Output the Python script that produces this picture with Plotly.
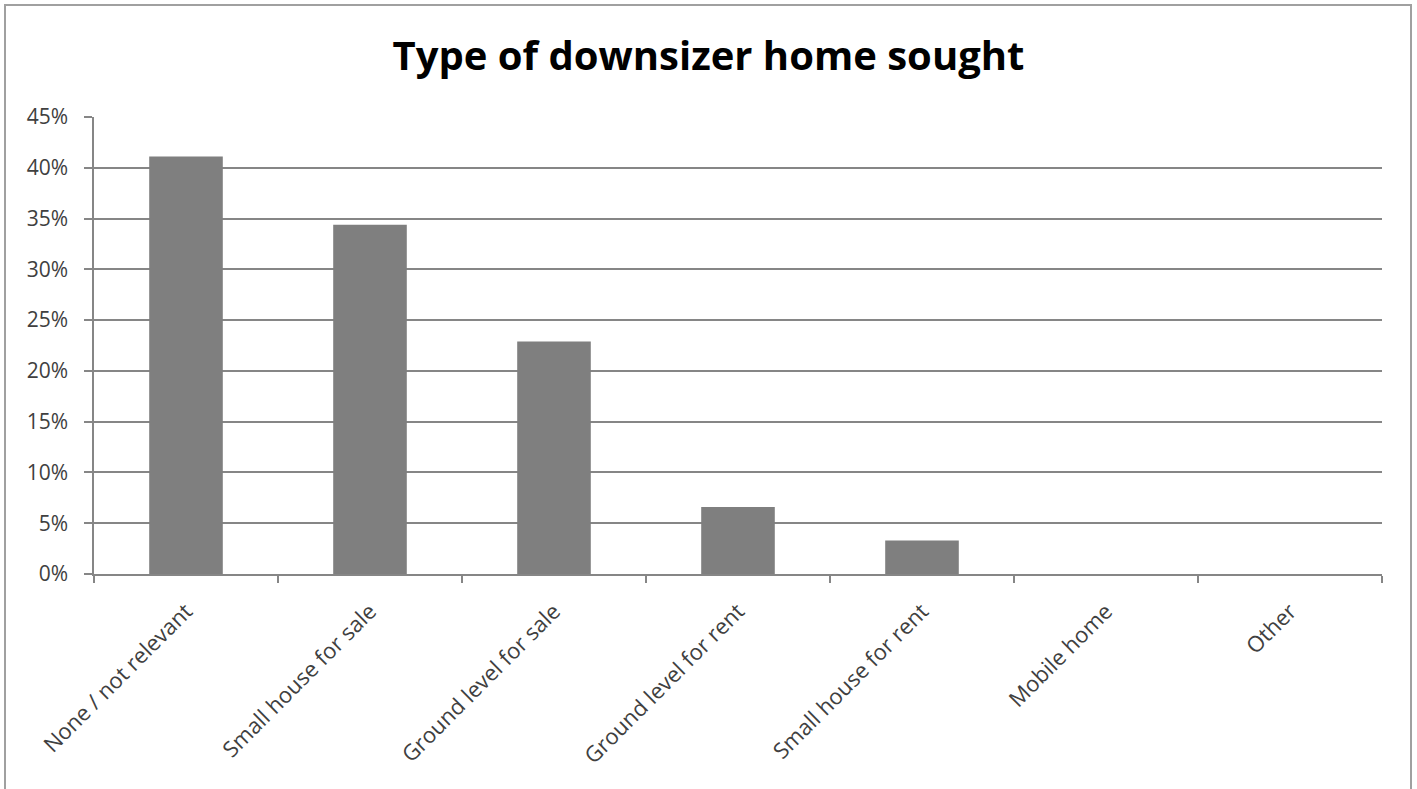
import plotly.graph_objects as go

categories = ["None / not relevant", "Small house for sale", "Ground level for sale",
              "Ground level for rent", "Small house for rent", "Mobile home", "Other"]
values = [0.411, 0.344, 0.229, 0.066, 0.033, 0.0, 0.0]
y_ticks = [0, 0.05, 0.10, 0.15, 0.20, 0.25, 0.30, 0.35, 0.40, 0.45]
y_tick_labels = ["0%", "5%", "10%", "15%", "20%", "25%", "30%", "35%", "40%", "45%"]
title_text = "Type of downsizer home sought"

W, H = 1417, 789
L, R, T, B = 94, 35, 117, 215
pw, ph = W - L - R, H - T - B

def px_x(x):
    return (x - L) / pw

def px_y(y):
    return (H - B - y) / ph

fig = go.Figure(go.Bar(
    x=categories, y=values,
    marker=dict(color="#7f7f7f", line=dict(width=0)),
    hoverinfo="x+y",
))

fig.update_layout(
    width=W, height=H,
    margin=dict(l=L, r=R, t=T, b=B),
    paper_bgcolor="white", plot_bgcolor="white",
    bargap=0.6,
    showlegend=False,
    title=dict(text="<b>" + title_text + "</b>", x=0.5, xref="container", xanchor="center",
               y=1 - 56 / H, yanchor="middle",
               font=dict(family="Open Sans", size=40, color="#000000")),
    font=dict(family="Open Sans", color="#404040"),
)

fig.update_xaxes(
    type="category", tickson="boundaries", ticks="outside", ticklen=7,
    tickcolor="#868686", tickwidth=1.5,
    showline=True, linecolor="#868686", linewidth=1.5,
    tickangle=-45, tickfont=dict(family="Open Sans", size=22, color="#404040"),
    ticklabelstandoff=14,
    showgrid=False,
)
fig.update_yaxes(
    range=[0, 0.45], tickvals=y_ticks, ticktext=y_tick_labels,
    ticks="outside", ticklen=8, tickcolor="#868686", tickwidth=1.5,
    showline=True, linecolor="#868686", linewidth=1.5,
    showgrid=True, gridcolor="#868686", gridwidth=1.5,
    tickfont=dict(family="Open Sans", size=21, color="#404040"),
    ticklabelstandoff=12,
    zeroline=False,
)

# outer chart border
fig.add_shape(type="rect", xref="paper", yref="paper",
              x0=px_x(5), x1=px_x(1411), y0=px_y(800), y1=px_y(5),
              line=dict(color="#a0a0a0", width=2), fillcolor="rgba(0,0,0,0)", layer="below")

fig.write_html("out.html")
